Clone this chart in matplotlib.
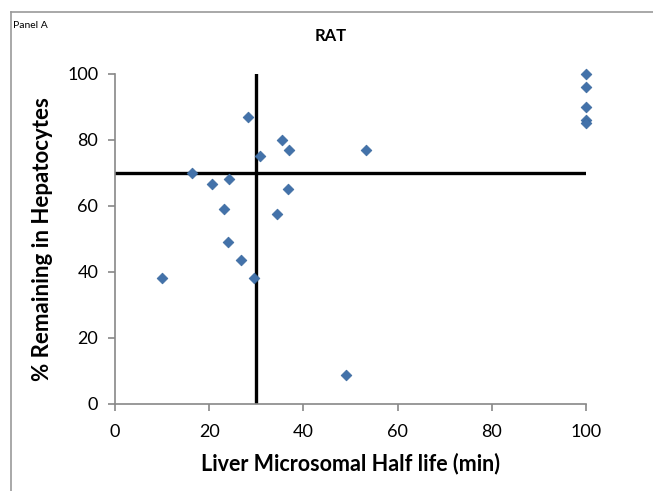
import matplotlib.pyplot as plt
from matplotlib.lines import Line2D

# microsomal half life (min) vs % remaining in hepatocytes
half_life = [10, 16.3, 20.5, 24.3, 23.2, 24, 26.8, 29.5, 28.2, 30.8, 35.4, 37, 36.8, 34.3,
             49, 53.3, 100, 100, 100, 100, 100]
remaining = [38, 70, 66.5, 68, 59, 49, 43.5, 38, 87, 75, 80, 77, 65, 57.6,
             8.6, 77, 100, 96, 90, 86, 85]

# cut-off lines
cut_x = [30, 30]
cut_x_y = [0, 100]
cut_y_x = [0, 100]
cut_y = [70, 70]

xticks = [0, 20, 40, 60, 80, 100]
yticks = [0, 20, 40, 60, 80, 100]

plt.rcParams['font.family'] = ['Lato', 'DejaVu Sans']

fig = plt.figure(figsize=(6.53, 4.91), dpi=100)
ax = fig.add_axes([115 / 653, 1 - 403.5 / 491, (586 - 115) / 653, (403.5 - 74) / 491])

# chart area border (only top and left visible in the crop)
top = 1 - 12 / 491
left = 10.5 / 653
fig.lines.append(Line2D([left, 1.0], [top, top], transform=fig.transFigure,
                        color='#9a9a9a', linewidth=1.2))
fig.lines.append(Line2D([left, left], [0, top], transform=fig.transFigure,
                        color='#9a9a9a', linewidth=1.2))

ax.plot(cut_x, cut_x_y, color='black', linewidth=2.4, zorder=2)
ax.plot(cut_y_x, cut_y, color='black', linewidth=2.4, zorder=2)
ax.scatter(half_life, remaining, marker='D', s=30, color='#4372aa',
           edgecolor='#3b6a9f', linewidth=0.5, zorder=3, clip_on=False)

ax.set_xlim(0, 100)
ax.set_ylim(0, 100)
ax.set_xticks(xticks)
ax.set_yticks(yticks)
ax.tick_params(labelsize=13, length=5, color='#888888', width=1.2)
ax.tick_params(axis='x', pad=10)
ax.tick_params(axis='y', pad=7)
for side in ['top', 'right']:
    ax.spines[side].set_visible(False)
for side in ['left', 'bottom']:
    ax.spines[side].set_color('#888888')
    ax.spines[side].set_linewidth(1.2)

ax.set_xlabel('Liver Microsomal Half life (min)', fontsize=15.5, fontweight='bold', labelpad=9)
ax.set_ylabel('% Remaining in Hepatocytes', fontsize=16, fontweight='bold', labelpad=10)

fig.text(331 / 653, 1 - 36 / 491, 'RAT', ha='center', va='center', fontsize=12, fontweight='bold')
fig.text(13 / 653, 1 - 25 / 491, 'Panel A', ha='left', va='center', fontsize=7.5)

fig.savefig('out.png', dpi=100)
